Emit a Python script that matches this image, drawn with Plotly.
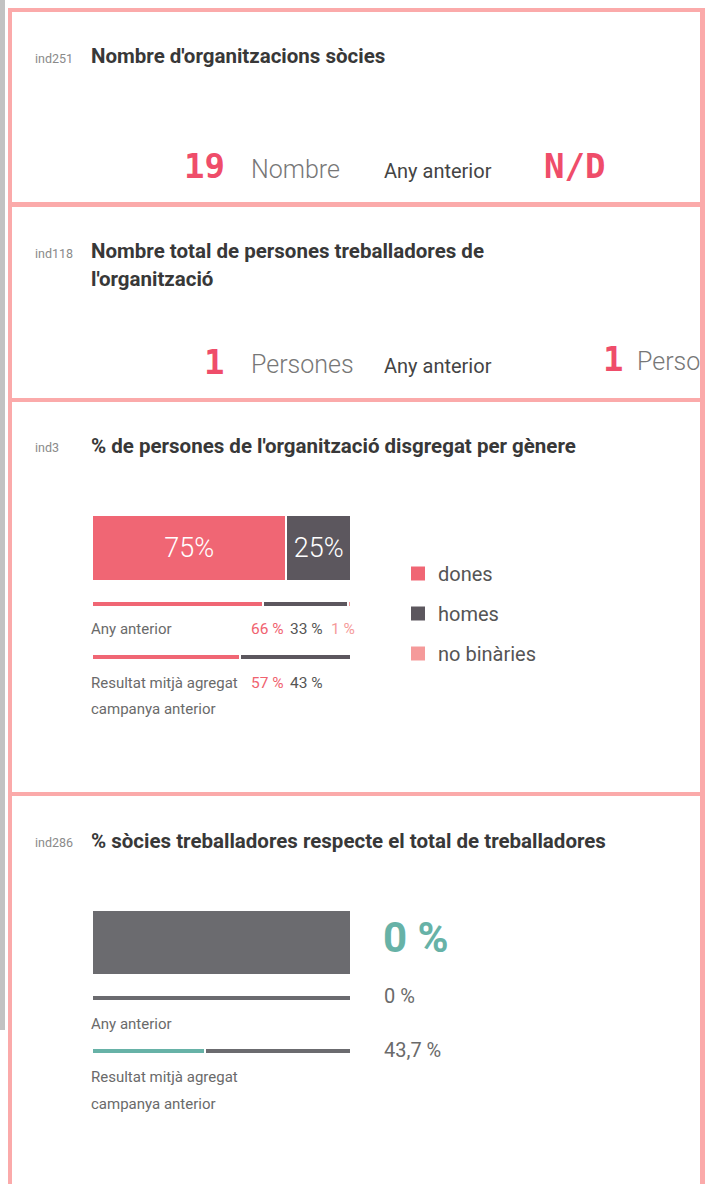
import plotly.graph_objects as go

W, H = 707, 1184

# indicator values
socies_now, socies_prev = "19", "N/D"
workers_now, workers_prev = "1", "1"

gender_labels = ["dones", "homes", "no binàries"]
gender_colors = ["#f06674", "#5c575e", "#f59a9a"]
gender_now = [75, 25, 0]
gender_prev = [66, 33, 1]
gender_avg = [57, 43, 0]

partner_now = 0
partner_prev = 0
partner_avg = 43.7

PINK = "#ef4d6a"
TEAL = "#67b2a7"
GREY_BAR = "#6b6b6f"
FONT = "Roboto"
MONO = "DejaVu Sans Mono"


def px_x(v):
    return v / W


def px_y(v):
    return 1 - v / H


fig = go.Figure()

# ind3 stacked bars (main bar + previous year line + campaign average line)
rows_y = [548, 604, 657]
rows_w = [66, 6, 6]
for i, name in enumerate(gender_labels):
    vals = [gender_now[i], gender_prev[i], gender_avg[i]]
    fig.add_trace(
        go.Bar(
            x=vals,
            y=rows_y,
            width=rows_w,
            orientation="h",
            xaxis="x2",
            yaxis="y",
            marker=dict(color=gender_colors[i], line=dict(color="white", width=2)),
            text=[f"{vals[0]}%" if vals[0] > 0 else "", "", ""],
            textposition="inside",
            insidetextanchor="middle",
            textfont=dict(family=FONT, size=27, color="white", weight=300),
            showlegend=False,
            hoverinfo="skip",
        )
    )
    # legend entry
    fig.add_trace(
        go.Scatter(
            x=[None],
            y=[None],
            mode="markers",
            name=name,
            legendgroup=name,
            marker=dict(symbol="square", size=14, color=gender_colors[i]),
        )
    )

# ind286 bars
rows2_y = [942.5, 998, 1051]
rows2_w = [65, 6, 6]
partner_vals = [partner_now, partner_prev, partner_avg]
fig.add_trace(
    go.Bar(
        x=partner_vals,
        y=rows2_y,
        width=rows2_w,
        orientation="h",
        xaxis="x2",
        yaxis="y",
        marker=dict(color=TEAL, line=dict(color="white", width=2)),
        showlegend=False,
        hoverinfo="skip",
    )
)
fig.add_trace(
    go.Bar(
        x=[100 - v for v in partner_vals],
        y=rows2_y,
        width=rows2_w,
        orientation="h",
        xaxis="x2",
        yaxis="y",
        marker=dict(color=GREY_BAR, line=dict(color="white", width=2)),
        showlegend=False,
        hoverinfo="skip",
    )
)

# previous-year value that gets cut by the card border
fig.add_trace(
    go.Scatter(
        x=[603, 637],
        y=[362, 364],
        mode="text",
        text=[workers_prev, "Persones"],
        textposition="middle right",
        textfont=dict(family=[MONO, FONT], size=[34, 25], color=[PINK, "#777777"],
                      weight=[700, 300]),
        cliponaxis=True,
        showlegend=False,
        hoverinfo="skip",
    )
)


def label(x, y, text, size, color, weight=400, family=FONT):
    fig.add_annotation(
        x=x, y=y, xref="x", yref="y", text=text, showarrow=False,
        xanchor="left", yanchor="middle",
        font=dict(family=family, size=size, color=color, weight=weight),
    )


TITLE = "#383838"
IND = "#8a8a8a"
SMALL = "#6a6a6a"
TS = 20.5

# ind251
label(33, 58, "ind251", 12.5, IND)
label(89, 56, "Nombre d'organitzacions sòcies", TS, TITLE, 700)
label(182, 166, socies_now, 34, PINK, 700, MONO)
label(249, 169, "Nombre", 25, "#777777", 300)
label(382, 171, "Any anterior", 20, "#444444")
label(542, 166, socies_prev, 34, PINK, 700, MONO)

# ind118
label(33, 253, "ind118", 12.5, IND)
label(89, 251, "Nombre total de persones treballadores de", TS, TITLE, 700)
label(89, 279, "l'organització", TS, TITLE, 700)
label(202, 362, workers_now, 34, PINK, 700, MONO)
label(249, 364, "Persones", 25, "#777777", 300)
label(382, 366, "Any anterior", 20, "#444444")

# ind3
label(33, 447, "ind3", 12.5, IND)
label(89, 446, "% de persones de l'organització disgregat per gènere", TS, TITLE, 700)
label(89, 629, "Any anterior", 15, SMALL)
label(249, 629, f"{gender_prev[0]} %", 15.5, "#f0626f")
label(288, 629, f"{gender_prev[1]} %", 15.5, "#555555")
label(329, 629, f"{gender_prev[2]} %", 15.5, "#f59a9a")
label(89, 683, "Resultat mitjà agregat", 15, SMALL)
label(249, 683, f"{gender_avg[0]} %", 15.5, "#f0626f")
label(288, 683, f"{gender_avg[1]} %", 15.5, "#555555")
label(89, 709, "campanya anterior", 15, SMALL)

# ind286
label(33, 842, "ind286", 12.5, IND)
label(89, 841, "% sòcies treballadores respecte el total de treballadores", TS, TITLE, 700)
label(381, 937, f"{partner_now} %", 42, TEAL, 700)
label(382, 996, f"{partner_prev} %", 20, SMALL)
label(382, 1050, f"{partner_avg}".replace(".", ",") + " %", 20, SMALL)
label(89, 1024, "Any anterior", 15, SMALL)
label(89, 1077, "Resultat mitjà agregat", 15, SMALL)
label(89, 1104, "campanya anterior", 15, SMALL)

# card borders and left grey strip
BORDER = "#fbaaaa"
shapes = [
    dict(x0=0, x1=5, y0=0, y1=1030, color="#c2c2c2"),
    dict(x0=8, x1=12, y0=8, y1=H, color=BORDER),
    dict(x0=700, x1=705, y0=8, y1=H, color=BORDER),
    dict(x0=8, x1=705, y0=8, y1=12, color=BORDER),
    dict(x0=8, x1=705, y0=202, y1=207, color=BORDER),
    dict(x0=8, x1=705, y0=398, y1=402, color=BORDER),
    dict(x0=8, x1=705, y0=792, y1=796, color=BORDER),
]
for s in shapes:
    fig.add_shape(
        type="rect", xref="paper", yref="paper",
        x0=px_x(s["x0"]), x1=px_x(s["x1"]), y0=px_y(s["y0"]), y1=px_y(s["y1"]),
        fillcolor=s["color"], line_width=0, layer="below",
    )

fig.update_layout(
    width=W,
    height=H,
    margin=dict(l=0, r=0, t=0, b=0),
    paper_bgcolor="white",
    plot_bgcolor="rgba(0,0,0,0)",
    barmode="stack",
    xaxis=dict(range=[0, 700], domain=[0, 700 / W], visible=False, fixedrange=True),
    xaxis2=dict(range=[0, 100], domain=[px_x(92), px_x(351)], anchor="y",
                visible=False, fixedrange=True),
    yaxis=dict(range=[H, 0], domain=[0, 1], visible=False, fixedrange=True),
    legend=dict(
        x=px_x(398), y=px_y(554), xanchor="left", yanchor="top",
        font=dict(family=FONT, size=20, color="#555555"),
        tracegroupgap=11, itemclick=False, itemdoubleclick=False,
        bgcolor="rgba(0,0,0,0)",
    ),
    font=dict(family=FONT),
)

# the page body has a default 8px margin; drop it so the figure fills the window
fig.write_html(
    "out.html",
    config={"displayModeBar": False},
    post_script="document.body.style.margin='0';",
)
